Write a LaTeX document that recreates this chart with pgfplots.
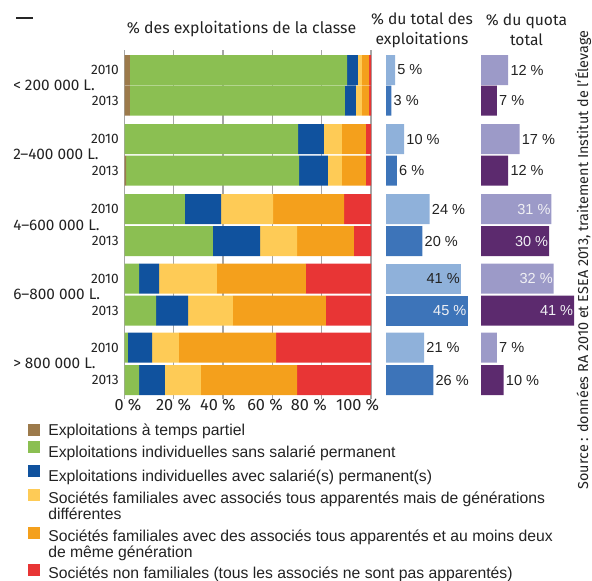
\documentclass[border=0pt]{standalone}
\usepackage{pgfplots}
\pgfplotsset{compat=1.18}
\usepackage{fontspec}
\setmainfont{Fira Sans}
\newfontfamily\lib{Liberation Sans}
\definecolor{cbrown}{HTML}{9C7A4B}
\definecolor{cgreen}{HTML}{8BBF52}
\definecolor{cblue}{HTML}{10529E}
\definecolor{cyellow}{HTML}{FECB56}
\definecolor{corange}{HTML}{F4A01C}
\definecolor{cred}{HTML}{E83535}
\definecolor{mlight}{HTML}{8FB1DA}
\definecolor{mdark}{HTML}{3D74B9}
\definecolor{rlight}{HTML}{9C9AC8}
\definecolor{rdark}{HTML}{5C2A6E}
\definecolor{lbl}{HTML}{222222}
\definecolor{wlbl}{HTML}{F0F0F4}
\pgfplotsset{
  sq/.style={legend image code/.code={\fill[##1] (0pt,{#1}) rectangle (9pt,{#1+9pt});}},
  pct/.style={nodes near coords={\pgfmathprintnumber[assume math mode=true]{\pgfplotspointmeta}~\%}},
}
\tikzset{lab/.style={font=\lib\fontsize{10.9}{12}\selectfont}}
\newcommand{\ent}[2]{\smash{#2}\rule[-1pt]{0pt}{#1}}
\begin{document}
\begin{tikzpicture}
\useasboundingbox (0,0) rectangle (444pt,-435.75pt);
% ---------------- left panel ----------------
\begin{axis}[
  at={(93.375pt,-299.25pt)}, anchor=south west, scale only axis,
  width=184.875pt, height=261.75pt,
  xbar stacked, bar width=30,
  xmin=0, xmax=100, ymin=50, ymax=399, y dir=reverse,
  axis line style={draw=none},
  major tick length=0pt,
  xtick={0,20,40,60,80,100}, xticklabels={},
  xmajorgrids, grid style={color=black!35, line width=1pt},
  extra x ticks={1.4,19.9,37.9,57,74.8,94.6},
  extra x tick labels={0~\%,20~\%,40~\%,60~\%,80~\%,100~\%},
  extra x tick style={grid=none, major tick length=0pt,
     xticklabel style={font=\fontsize{12.2}{14}\selectfont, inner sep=0pt, text=lbl}},
  ytick={70,100.5,139,170.5,209,241,278.5,310.5,347.5,380},
  yticklabels={2010,2013,2010,2013,2010,2013,2010,2013,2010,2013},
  yticklabel style={font=\fontsize{10.3}{12}\selectfont, inner sep=0pt, xshift=-4.1pt, text=lbl},
  legend style={at={(-0.3915,-0.0579)}, anchor=north west, draw=none, fill=none,
     font=\lib\fontsize{11.8}{13.2}\selectfont, text=lbl, row sep=0pt, column sep=6pt,
     inner sep=0pt, nodes={inner sep=0pt}, cells={anchor=base west}},
]
\addplot[fill=cbrown, draw=none, sq=-0.75pt] coordinates {(2.2,70) (2.2,100.5) (0,139) (0.7,170.5) (0,209) (0,241) (0,278.5) (0,310.5) (0,347.5) (0,380)};
\addplot[fill=cgreen, draw=none, sq=3.4pt] coordinates {(88.1,70) (87.2,100.5) (70.4,139) (70.1,170.5) (24.5,209) (35.9,241) (5.9,278.5) (12.8,310.5) (1.4,347.5) (5.9,380)};
\addplot[fill=cblue, draw=none, sq=3pt] coordinates {(4.4,70) (4.5,100.5) (10.5,139) (11.7,170.5) (14.7,209) (19.1,241) (8.1,278.5) (13.0,310.5) (9.8,347.5) (10.5,380)};
\addplot[fill=cyellow, draw=none, sq=1.9pt] coordinates {(1.6,70) (2.4,100.5) (7.3,139) (5.7,170.5) (21.1,209) (15.0,241) (23.5,278.5) (18.2,310.5) (10.9,347.5) (14.6,380)};
\addlegendimage{empty legend}
\addplot[fill=corange, draw=none, sq=1.9pt] coordinates {(2.9,70) (2.9,100.5) (9.7,139) (9.7,170.5) (28.8,209) (23.1,241) (36.1,278.5) (37.7,310.5) (39.4,347.5) (39.0,380)};
\addlegendimage{empty legend}
\addplot[fill=cred, draw=none, sq=1.9pt] coordinates {(0.8,70) (0.8,100.5) (2.1,139) (2.1,170.5) (10.9,209) (6.9,241) (26.4,278.5) (18.3,310.5) (38.5,347.5) (30.0,380)};
\addlegendentry{\ent{13pt}{Exploitations à temps partiel}}
\addlegendentry{\ent{16.3pt}{Exploitations individuelles sans salarié permanent}}
\addlegendentry{\ent{16.85pt}{Exploitations individuelles avec salarié(s) permanent(s)}}
\addlegendentry{\ent{16.3pt}{Sociétés familiales avec associés tous apparentés mais de générations}}
\addlegendentry{\ent{11.6pt}{différentes}}
\addlegendentry{\ent{15.9pt}{Sociétés familiales avec des associés tous apparentés et au moins deux}}
\addlegendentry{\ent{11.8pt}{de même génération}}
\addlegendentry{\ent{14.8pt}{Sociétés non familiales (tous les associés ne sont pas apparentés)}}
\end{axis}
% ---------------- middle panel ----------------
\begin{axis}[
  at={(289.5pt,-299.25pt)}, anchor=south west, scale only axis,
  width=68.25pt, height=261.75pt,
  xmin=0, xmax=50, ymin=50, ymax=399, y dir=reverse,
  hide axis, clip=false,
  point meta=x,
]
\addplot[xbar, bar shift=0pt, bar width=30, fill=mlight, draw=none, pct,
  nodes near coords style={lab, anchor=west, inner sep=1.5pt, text=lbl}]
  coordinates {(5,70) (10,139) (24,209) (21,347.5)};
\addplot[xbar, bar shift=0pt, bar width=30, fill=mlight, draw=none, pct,
  nodes near coords style={lab, anchor=east, inner sep=0.5pt, text=lbl}]
  coordinates {(41,278.5)};
\addplot[xbar, bar shift=0pt, bar width=30, fill=mdark, draw=none, pct,
  nodes near coords style={lab, anchor=west, inner sep=1.5pt, text=lbl}]
  coordinates {(3,100.5) (6,170.5) (20,241) (26,380)};
\addplot[xbar, bar shift=0pt, bar width=30, fill=mdark, draw=none, pct,
  nodes near coords style={lab, anchor=east, inner sep=1pt, text=wlbl}]
  coordinates {(45,310.5)};
\end{axis}
% ---------------- right panel ----------------
\begin{axis}[
  at={(360.75pt,-299.25pt)}, anchor=south west, scale only axis,
  width=76.6125pt, height=261.75pt,
  xmin=0, xmax=45, ymin=50, ymax=399, y dir=reverse,
  hide axis, clip=false,
  point meta=x,
]
\addplot[xbar, bar shift=0pt, bar width=30, fill=rlight, draw=none, pct,
  nodes near coords style={lab, anchor=west, inner sep=1.5pt, text=lbl}]
  coordinates {(12,70) (17,139) (7,347.5)};
\addplot[xbar, bar shift=0pt, bar width=30, fill=rlight, draw=none, pct,
  nodes near coords style={lab, anchor=east, inner sep=0.5pt, text=wlbl}]
  coordinates {(31,209) (32,278.5)};
\addplot[xbar, bar shift=0pt, bar width=30, fill=rdark, draw=none, pct,
  nodes near coords style={lab, anchor=west, inner sep=1.5pt, text=lbl}]
  coordinates {(7,100.5) (12,170.5) (10,380)};
\addplot[xbar, bar shift=0pt, bar width=30, fill=rdark, draw=none, pct,
  nodes near coords style={lab, anchor=east, inner sep=0.5pt, text=wlbl}]
  coordinates {(30,241) (41,310.5)};
\end{axis}
% ---------------- texts ----------------
\begin{scope}[x=0.75pt,y=-0.75pt]
\draw[line width=1.9pt, black!85] (16,18) -- (32.5,18);
\node[font=\fontsize{11.9}{13}\selectfont, text=lbl] at (241.5,29) {\% des exploitations de la classe};
\node[font=\fontsize{11.7}{15}\selectfont, align=center, text=lbl] at (422,30) {\% du total des\\exploitations};
\node[font=\fontsize{11.7}{15}\selectfont, align=center, text=lbl] at (526.5,30) {\% du quota\\total};
\begin{scope}[every node/.style={anchor=west, font=\fontsize{11.5}{13}\selectfont, text=lbl, inner sep=0pt}]
\node at (13,85.25) {< 200 000 L.};
\node at (13,154.75) {2–400 000 L.};
\node at (13,225) {4–600 000 L.};
\node at (13,294.5) {6–800 000 L.};
\node at (13,363.75) {> 800 000 L.};
\end{scope}
\node[rotate=90, font=\fontsize{10.8}{12}\selectfont, text=lbl] at (583,260) {Source : données RA 2010 et ESEA 2013, traitement Institut de l'Élevage};
\end{scope}
\end{tikzpicture}
\end{document}
